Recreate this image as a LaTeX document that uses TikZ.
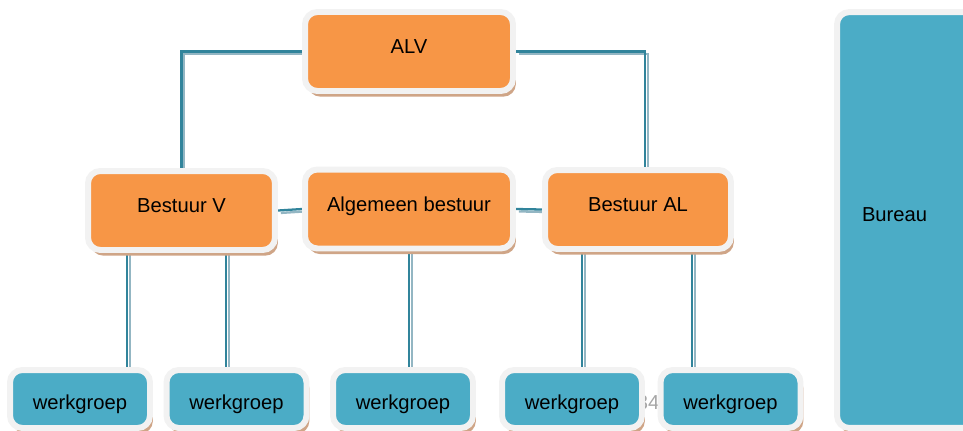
\documentclass[tikz,border=0pt]{standalone}
\usepackage{fontspec}
\setmainfont{Liberation Sans}
\usetikzlibrary{shadows, backgrounds}

\definecolor{boxorange}{HTML}{F79646}
\definecolor{boxblue}{HTML}{4BACC6}
\definecolor{boxrim}{HTML}{F2F2F2}
\definecolor{boxshade}{HTML}{CFA587}
\definecolor{linkteal}{HTML}{31849B}
\definecolor{linkshade}{HTML}{93B6C3}

\tikzset{
  box/.style={rectangle, rounded corners=7pt, draw=boxrim, line width=3.4pt,
    font=\fontsize{11.5}{13}\selectfont, inner sep=2pt,
    drop shadow={shadow xshift=1.6pt, shadow yshift=-3.2pt, fill=boxshade, opacity=1}},
  board/.style={box, fill=boxorange, minimum height=1.58cm,
    text height=8.5pt, text depth=6.1pt},
  group/.style={box, fill=boxblue, minimum width=2.8cm, minimum height=1.16cm,
    text height=12pt, text depth=0pt},
  link/.style={draw=linkteal, line width=1.3pt,
    preaction={draw=linkshade, line width=1.3pt, transform canvas={shift={(1.6pt,-1.4pt)}}}}
}

\begin{document}
\begin{tikzpicture}[x=0.02cm, y=-0.02cm]
    \useasboundingbox (0,0) rectangle (963,430);

    %the boards
    \node[board, minimum width=4.16cm] (alv) at (409,51.5) {ALV};
    \node[board, minimum width=3.74cm] (bv) at (181.5,210.5) {Bestuur V};
    \node[board, minimum width=4.16cm] (ab) at (409,209) {Algemeen bestuur};
    \node[board, minimum width=3.72cm] (bal) at (638,209.5) {Bestuur AL};

    %the bureau on the right
    \node[box, fill=boxblue, minimum width=2.96cm, minimum height=8.32cm,
          text width=1.96cm, align=left, text height=8.5pt, text depth=7.3pt]
          (bureau) at (911,220) {Bureau};

    %the working groups
    \node[group] (wg1) at (80,399) {werkgroep};
    \node[group] (wg2) at (236.5,399) {werkgroep};
    \node[group] (wg3) at (403,399) {werkgroep};
    \node[group] (wg4) at (572,399) {werkgroep};
    \node[group] (wg5) at (730.5,399) {werkgroep};

    %define the links
    \begin{scope}[on background layer]
    \node[text=gray!70, font=\fontsize{11.5}{13}\selectfont] (page) at (648,403) {34};
    \draw[link] (alv.west) -| (bv.north);
    \draw[link] (alv.east) -| ([xshift=0.14cm]bal.north);
    \draw[link] (bv.east) -- (ab.west);
    \draw[link] (ab.east) -- (bal.west);
    \draw[link] ([xshift=-1.09cm]bv.south) -- ([xshift=-1.09cm]bv.south |- wg1.north);
    \draw[link] ([xshift=0.89cm]bv.south) -- ([xshift=0.89cm]bv.south |- wg2.north);
    \draw[link] (ab.south) -- (ab.south |- wg3.north);
    \draw[link] ([xshift=-1.12cm]bal.south) -- ([xshift=-1.12cm]bal.south |- wg4.north);
    \draw[link] ([xshift=1.08cm]bal.south) -- ([xshift=1.08cm]bal.south |- wg5.north);
    \end{scope}
\end{tikzpicture}
\end{document}
